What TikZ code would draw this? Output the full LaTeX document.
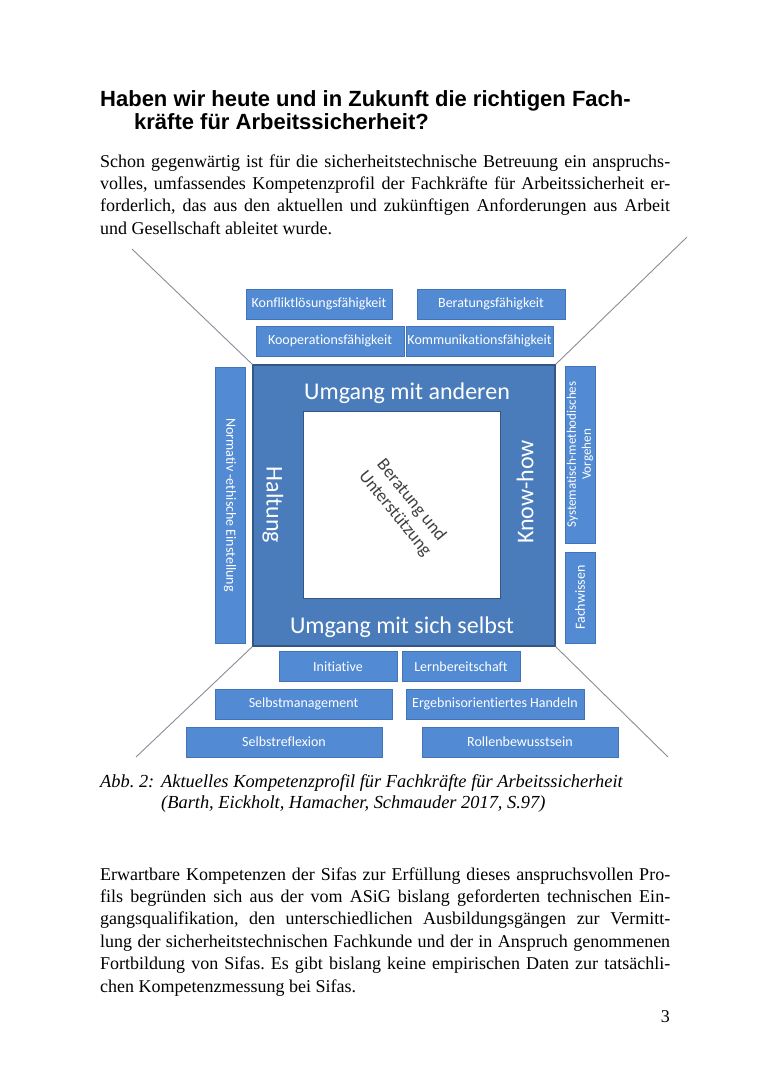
\documentclass[tikz,border=0pt]{standalone}
\usepackage{fontspec}
\setmainfont{Liberation Serif}
\newfontfamily\headfont{Liberation Sans}
\newfontfamily\boxfont[Ligatures=NoCommon]{Carlito}
\usetikzlibrary{positioning}
\frenchspacing

\definecolor{boxblue}{RGB}{82,139,212}
\definecolor{boxedge}{RGB}{66,116,184}
\definecolor{coreblue}{RGB}{74,124,188}
\definecolor{coreedge}{RGB}{52,86,130}
\definecolor{linegray}{RGB}{140,140,152}
\definecolor{txtgray}{RGB}{64,64,64}

\begin{document}
\begin{tikzpicture}[x=1pt,y=-1pt,
  sbox/.style={fill=boxblue,draw=boxedge,line width=0.6pt,inner sep=0pt,minimum height=30,
    text=white,align=center,font=\boxfont\fontsize{14}{15.5}\selectfont},
  coretxt/.style={inner sep=0pt,text=white,font=\boxfont\fontsize{24}{26}\selectfont},
  diag/.style={draw=linegray,line width=0.9pt},
  body/.style={anchor=base west,inner sep=0pt,font=\fontsize{18}{22.4}\selectfont}]
  \fill[white] (0,0) rectangle (770,1092);
  \useasboundingbox (0,0) rectangle (770,1092);
  % heading and first paragraph
  \node[anchor=base west,inner sep=0pt,font=\headfont\bfseries\fontsize{22}{23.5}\selectfont] (head) at (100,106)
    {\parbox[t]{620pt}{\raggedright Haben wir heute und in Zukunft die richtigen Fach-\\\hspace*{34pt}kräfte für Arbeitssicherheit?}};
  \node[body] (para1) at (100,167) {\parbox[t]{570pt}{Schon gegenwärtig ist für die sicherheitstechnische Betreuung ein anspruchs-\linebreak
    volles, umfassendes Kompetenzprofil der Fachkräfte für Arbeitssicherheit er-\linebreak
    forderlich, das aus den aktuellen und zukünftigen Anforderungen aus Arbeit\linebreak
    und Gesellschaft ableitet wurde.}};
  % diagonals
  \coordinate (nw) at (132,249); \coordinate (ne) at (687,237);
  \coordinate (sw) at (136,757); \coordinate (se) at (668,757);
  \node[fill=coreblue,draw=coreedge,line width=1.3pt,minimum width=302,minimum height=281,inner sep=0pt] (core) at (404,505.5) {};
  \draw[diag] (nw) -- (core.north west) (ne) -- (core.north east) (sw) -- (core.south west) (se) -- (core.south east);
  \node[fill=white,draw=coreedge,line width=0.6pt,minimum width=197,minimum height=187,inner sep=0pt] (inner) at (402,505) {};
  \node[coretxt] (anderen) at (407,393) {Umgang mit anderen};
  \node[coretxt] (selbst) at (402,627) {Umgang mit sich selbst};
  \node[coretxt,rotate=-90] (haltung) at (273,505) {Haltung};
  \node[coretxt,rotate=90] (knowhow) at (525,492) {Know-how};
  \node[inner sep=0pt,align=center,text=txtgray,font=\boxfont\fontsize{18}{21}\selectfont,rotate=-51] (kern) at (403,507) {Beratung und\\Unterstützung};
  % competence boxes
  \foreach \n/\x/\y/\w/\t in {konflikt/319/304/146/Konfliktlösungsfähigkeit, beratung/491/304/148/Beratungsfähigkeit,
      kooperation/330/341/148/Kooperationsfähigkeit, kommunikation/479.5/341/147/Kommunikationsfähigkeit,
      initiative/338/666.5/118/Initiative, lernen/461/666.5/118/Lernbereitschaft,
      management/303.5/704/177/Selbstmanagement, ergebnis/495/704/178/Ergebnisorientiertes Handeln,
      reflexion/284/742/196/Selbstreflexion, rolle/520/742/196/Rollenbewusstsein}
    \node[sbox,minimum width=\w] (\n) at (\x,\y) {\t};
  \node[sbox,minimum width=276,rotate=-90] (normativ) at (230,505) {Normativ -ethische Einstellung};
  \node[sbox,minimum width=177,rotate=90,font=\boxfont\fontsize{13}{15}\selectfont] (methodik) at (580,454.5) {Systematisch-methodisches\\Vorgehen};
  \node[sbox,minimum width=91,rotate=90] (fachwissen) at (580,597.5) {Fachwissen};
  % caption, second paragraph, page number
  \node[anchor=base west,inner sep=0pt,font=\itshape\fontsize{18.4}{21}\selectfont] (caption) at (100,787)
    {\parbox[t]{620pt}{\raggedright\makebox[61pt][l]{Abb. 2:}Aktuelles Kompetenzprofil für Fachkräfte für Arbeitssicherheit\\\hspace*{61pt}(Barth, Eickholt, Hamacher, Schmauder 2017, S.97)}};
  \node[body] (para2) at (100,880) {\parbox[t]{570pt}{Erwartbare Kompetenzen der Sifas zur Erfüllung dieses anspruchsvollen Pro-\linebreak
    fils begründen sich aus der vom ASiG bislang geforderten technischen Ein-\linebreak
    gangsqualifikation, den unterschiedlichen Ausbildungsgängen zur Vermitt-\linebreak
    lung der sicherheitstechnischen Fachkunde und der in Anspruch genommenen\linebreak
    Fortbildung von Sifas. Es gibt bislang keine empirischen Daten zur tatsächli-\linebreak
    chen Kompetenzmessung bei Sifas.}};
  \node[anchor=base east,inner sep=0pt,font=\fontsize{18}{20}\selectfont] (pagenum) at (670,1022) {3};
\end{tikzpicture}
\end{document}
